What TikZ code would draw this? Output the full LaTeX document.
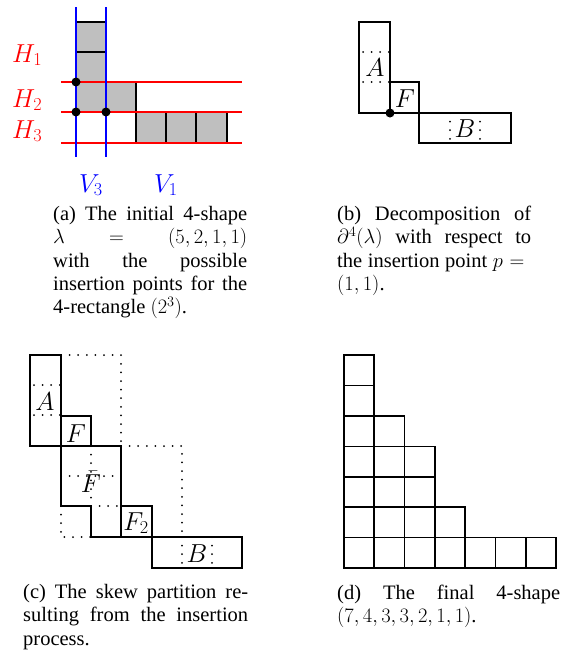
\documentclass[tikz,border=0pt]{standalone}
\usepackage{fix-cm}
\usepackage[no-math]{fontspec}
\setmainfont{Liberation Serif}
\tikzset{
  cell/.style={draw=black, line width=1.7pt},
  graycell/.style={cell, fill=gray!50},
  dotline/.style={line width=2pt, dash pattern=on 0pt off 8.6pt, line cap=round},
  lab/.style={font=\fontsize{26}{30}\selectfont, inner sep=0pt, anchor=base},
  captxt/.style={font=\fontsize{20.5}{23.3}\selectfont, inner sep=0pt, anchor=north west, align=justify},
  hline/.style={red, line width=1.8pt},
  vline/.style={blue, line width=2pt},
  ipoint/.style={fill=black, draw=none}
}
\begin{document}
\begin{tikzpicture}[x=1pt,y=-1pt]
\useasboundingbox (0,0) rectangle (561,656);
% ---------------- (a) ----------------
\draw[graycell] (76,22) rectangle (106,52);
\draw[graycell] (76,52) rectangle (106,82);
\draw[graycell] (76,82) rectangle (106,112);
\draw[graycell] (106,82) rectangle (136,112);
\draw[graycell] (136,112) rectangle (166,143);
\draw[graycell] (166,112) rectangle (196,143);
\draw[graycell] (196,112) rectangle (227,143);
\draw[hline] (61,82) -- (242,82);
\draw[hline] (61,112) -- (242,112);
\draw[hline] (61,143) -- (242,143);
\draw[vline] (76,7) -- (76,157);
\draw[vline] (106,7) -- (106,157);
\fill[ipoint] (76,82) circle (4.5);
\fill[ipoint] (76,112) circle (4.5);
\fill[ipoint] (106,112) circle (4.5);
\node[lab, anchor=base west, text=red] (h1) at (12,62) {$H_1$};
\node[lab, anchor=base west, text=red] (h2) at (12,107) {$H_2$};
\node[lab, anchor=base west, text=red] (h3) at (12,138) {$H_3$};
\node[lab, text=blue] (v3) at (91,192) {$V_3$};
\node[lab, text=blue] (v1) at (166,192) {$V_1$};
% ---------------- (b) ----------------
\draw[cell] (359,22) rectangle (390,113);
\draw[dotline, dash phase=-4pt] (359,52) -- (390,52);
\draw[dotline, dash phase=-4pt] (359,82) -- (390,82);
\draw[cell] (390,82) rectangle (419,113);
\draw[cell] (419,113) rectangle (511,143);
\draw[dotline] (450,113) -- (450,143);
\draw[dotline] (480,113) -- (480,143);
\fill[ipoint] (390,113) circle (4.5);
\node[lab] (ba) at (375,76) {$A$};
\node[lab] (bf) at (405,107) {$F$};
\node[lab] (bb) at (465,137) {$B$};
% ---------------- (c) ----------------
\draw[dotline] (61,355) -- (121,355) -- (121,446);
\draw[dotline] (121,446) -- (182,446) -- (182,537);
\draw[dotline] (61,476) -- (121,476);
\draw[dotline] (91,446) -- (91,506);
\draw[dotline] (91,506) -- (121,506);
\draw[dotline] (61,506) -- (61,537) -- (91,537);
\draw[cell] (30,355) rectangle (61,446);
\draw[dotline, dash phase=-4pt] (30,385) -- (61,385);
\draw[dotline, dash phase=-4pt] (30,415) -- (61,415);
\draw[cell] (61,416) rectangle (91,446);
\draw[cell] (61,446) -- (121,446) -- (121,537) -- (91,537) -- (91,506) -- (61,506) -- cycle;
\draw[cell] (121,506) rectangle (152,537);
\draw[cell] (152,537) rectangle (242,568);
\draw[dotline] (182,537) -- (182,568);
\draw[dotline] (212,537) -- (212,568);
\node[lab] (ca) at (45,410) {$A$};
\node[lab] (cf) at (76,442) {$F$};
\node[lab] (cfb) at (91,492) {$\bar F$};
\node[lab] (cf2) at (136,530) {$F_2$};
\node[lab] (cb) at (197,562) {$B$};
% ---------------- (d) ----------------
\foreach \r/\n in {0/7,1/4,2/3,3/3,4/2,5/1,6/1}{
  \foreach \c in {1,...,\n}{
    \draw[cell] ({344+30.3*(\c-1)},{568-30.4*\r}) rectangle ({344+30.3*\c},{568-30.4*(\r+1)});
  }
}
% ---------------- captions ----------------
\node[captxt, text width=194pt] (capa) at (53,206) {(a) The initial 4-shape\linebreak $\lambda = (5,2,1,1)$\linebreak with the possible\linebreak insertion points for the\linebreak 4-rectangle $(2^3)$.};
\node[captxt, text width=194pt] (capb) at (337,206) {(b) Decomposition of\linebreak $\partial^4(\lambda)$ with respect to\linebreak the insertion point $p={}$\linebreak $(1,1)$.};
\node[captxt, text width=225pt] (capc) at (23,584) {(c) The skew partition re-\linebreak sulting from the insertion\linebreak process.};
\node[captxt, text width=223pt] (capd) at (337,585) {(d) The final 4-shape\linebreak $(7,4,3,3,2,1,1)$.};
\end{tikzpicture}
\end{document}
